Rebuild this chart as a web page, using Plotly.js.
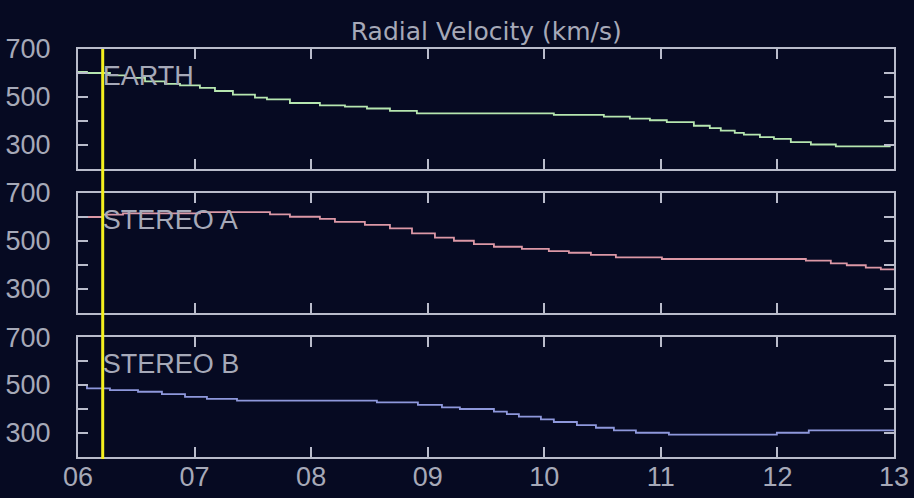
<!DOCTYPE html>
<html>
<head>
<meta charset="utf-8">
<script src="https://cdn.plot.ly/plotly-3.0.1.min.js"></script>
<style>
html,body{margin:0;padding:0;background:#060a22;}
#chart{width:914px;height:498px;}
</style>
</head>
<body>
<div id="chart"></div>
<script>
// Time in days of month, velocity in km/s (step series)
const earthT = [6.0, 6.077, 6.274, 6.403, 6.575, 6.746, 6.875, 7.046, 7.175, 7.329, 7.518, 7.621, 7.818, 8.075, 8.29, 8.479, 8.676, 8.907, 10.082, 10.511, 10.734, 10.906, 11.051, 11.283, 11.42, 11.514, 11.634, 11.712, 11.85, 11.97, 12.115, 12.287, 12.501, 12.964, 13.0];
const earthV = [605, 600, 590, 580, 565, 555, 548, 538, 525, 510, 497, 490, 475, 465, 460, 452, 442, 432, 425, 418, 410, 403, 395, 380, 370, 360, 350, 343, 333, 325, 312, 302, 294, 300, 300];

const stereoAT = [6.0, 6.214, 6.386, 7.046, 7.647, 7.818, 8.075, 8.204, 8.461, 8.676, 8.865, 9.062, 9.225, 9.396, 9.568, 9.808, 10.039, 10.211, 10.4, 10.614, 11.009, 12.244, 12.458, 12.595, 12.758, 12.887, 13.0];
const stereoAV = [600, 610, 615, 620, 611, 601, 592, 580, 567, 553, 532, 514, 501, 487, 476, 467, 458, 451, 442, 432, 425, 418, 407, 399, 389, 382, 382];

const stereoBT = [6.0, 6.077, 6.274, 6.515, 6.72, 6.918, 7.106, 7.364, 8.564, 8.916, 9.122, 9.276, 9.568, 9.679, 9.782, 9.971, 10.082, 10.28, 10.443, 10.597, 10.786, 11.069, 11.995, 12.269, 13.0];
const stereoBV = [500, 486, 479, 472, 462, 451, 442, 435, 428, 417, 407, 400, 389, 379, 368, 357, 346, 333, 322, 311, 301, 293, 301, 311, 311];

const panelNames = ["EARTH", "STEREO A", "STEREO B"];
const panelColors = ["#b6e6b0", "#dc98a6", "#8e98dc"];
const markerTime = [6.212];
const labelPos = [6.212, 580];

const dayTicks = [6, 7, 8, 9, 10, 11, 12, 13];
const dayLabels = ["06", "07", "08", "09", "10", "11", "12", "13"];
const velTicks = [300, 400, 500, 600, 700];
const velLabels = ["300", "", "500", "", "700"];

const fg = "#b9bccb";
const txt = "#a6a9b8";
const tickFont = {family: "Liberation Sans, Arial, sans-serif", size: 27, color: txt};

const series = [[earthT, earthV], [stereoAT, stereoAV], [stereoBT, stereoBV]];
const traces = [];
series.forEach((s, i) => {
  const ax = i === 0 ? "" : String(i + 1);
  traces.push({
    x: s[0], y: s[1], type: "scatter", mode: "lines",
    line: {shape: "hv", color: panelColors[i], width: 1.8},
    xaxis: "x" + ax, yaxis: "y" + ax, hoverinfo: "skip", showlegend: false
  });
  traces.push({
    x: [labelPos[0]], y: [labelPos[1]], type: "scatter", mode: "text",
    text: [panelNames[i]], textposition: "middle right",
    textfont: {family: "Liberation Sans, Arial, sans-serif", size: 27, color: txt},
    xaxis: "x" + ax, yaxis: "y" + ax, hoverinfo: "skip", showlegend: false, cliponaxis: false
  });
});

function xax(anchor, show) {
  return {
    anchor: anchor, range: [6, 13], tickvals: dayTicks, ticktext: dayLabels,
    showticklabels: show, ticks: "inside", ticklen: 10, tickwidth: 2, tickcolor: fg,
    showline: true, linecolor: fg, linewidth: 2, mirror: "ticks",
    showgrid: false, zeroline: false, tickfont: tickFont, ticklabelstandoff: -5,
    fixedrange: true
  };
}
function yax(anchor, dom) {
  return {
    anchor: anchor, domain: dom, range: [200, 700], tickvals: velTicks, ticktext: velLabels,
    ticks: "inside", ticklen: 10, tickwidth: 2, tickcolor: fg,
    showline: true, linecolor: fg, linewidth: 2, mirror: "ticks",
    showgrid: false, zeroline: false, tickfont: tickFont, ticklabelstandoff: 20,
    fixedrange: true
  };
}

const layout = {
  width: 914, height: 498,
  paper_bgcolor: "#060a22", plot_bgcolor: "#060a22",
  margin: {l: 78, r: 20, t: 49, b: 41},
  title: {text: "Radial Velocity (km/s)", x: 0.532, xanchor: "center", y: 0.938, yanchor: "middle", yref: "container",
          font: {family: "DejaVu Sans, sans-serif", size: 25, color: txt}},
  xaxis: xax("y", false),
  xaxis2: xax("y2", false),
  xaxis3: xax("y3", true),
  yaxis: yax("x", [0.706, 1]),
  yaxis2: yax("x2", [0.353, 0.647]),
  yaxis3: yax("x3", [0, 0.294]),
  shapes: [{
    type: "line", xref: "x", yref: "paper", x0: markerTime[0], x1: markerTime[0], y0: -0.005, y1: 1.0,
    line: {color: "#f4f01e", width: 3}, layer: "above"
  }],
  showlegend: false
};

Plotly.newPlot("chart", traces, layout, {displayModeBar: false, staticPlot: true});
</script>
</body>
</html>
